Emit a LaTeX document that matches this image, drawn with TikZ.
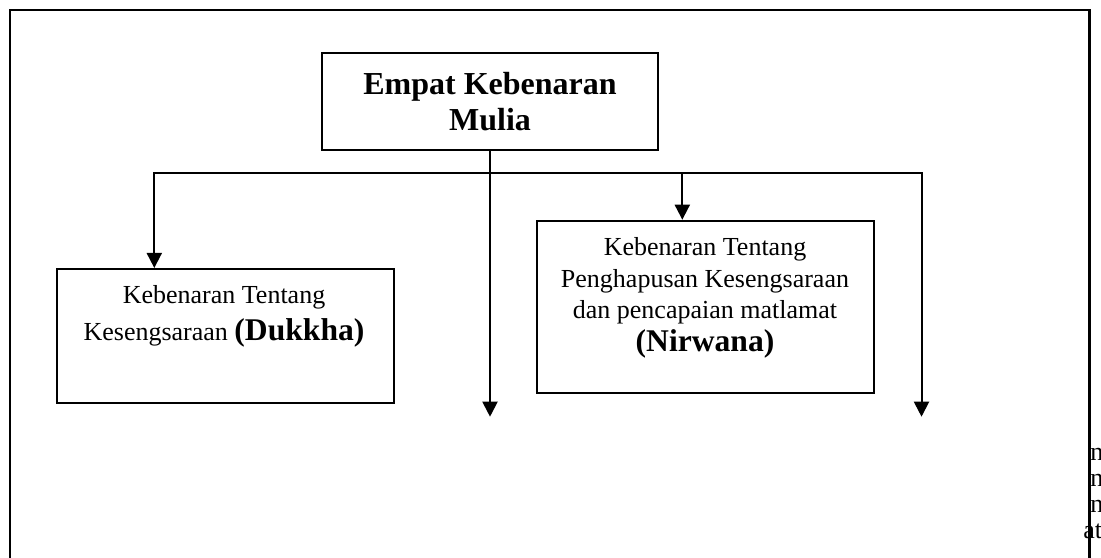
\documentclass[tikz,border=0pt]{standalone}
\usepackage{fontspec}
\setmainfont{Liberation Serif}
\usetikzlibrary{arrows.meta}
\begin{document}
\begin{tikzpicture}[x=0.5pt,y=-0.5pt,
  box/.style={draw, line width=1pt, inner sep=0pt, minimum width=168.35pt},
  txt/.style={inner sep=0pt, anchor=base, font=\fontsize{13}{15}\selectfont},
  ttl/.style={inner sep=0pt, anchor=base, font=\fontsize{16}{18}\selectfont\bfseries},
  conn/.style={line width=1pt},
  arr/.style={conn, -{Triangle[length=7.5pt,width=7.5pt]}},
  frame/.style={line width=1.1pt}]
\useasboundingbox (0,0) rectangle (1101,557);
\fill[white] (0,0) rectangle (1101,557);

% clipped text at the right edge
\node[txt, anchor=base west] (c1) at (1090,460) {n};
\node[txt, anchor=base west] (c2) at (1090,486) {n};
\node[txt, anchor=base west] (c3) at (1090,512) {n};
\node[txt, anchor=base west] (c4) at (1083,538) {at};

% outer frame (open at the bottom)
\draw[frame] (10,580) -- (10,10) -- (1089.5,10) -- (1089.5,580);

% boxes
\node[box, minimum width=168pt, minimum height=48.65pt] (title) at (490,101.4) {};
\node[box, minimum height=66.85pt] (left) at (225.7,335.8) {};
\node[box, minimum height=86pt] (right) at (705.7,306.7) {};

% title text
\node[ttl] (t1) at (490,94) {Empat Kebenaran};
\node[ttl] (t2) at (490,130.7) {Mulia};

% left box text
\node[txt] (l1) at (224,303.3) {Kebenaran Tentang};
\node[txt] (l2) at (224,340.5) {Kesengsaraan {\fontsize{15.8}{18}\selectfont\bfseries(Dukkha)}};

% right box text
\node[txt] (r1) at (705,255) {Kebenaran Tentang};
\node[txt] (r2) at (705,287.3) {Penghapusan Kesengsaraan};
\node[txt] (r3) at (705,318.3) {dan pencapaian matlamat};
\node[txt, font=\fontsize{15.8}{18}\selectfont\bfseries] (r4) at (705,351.7) {(Nirwana)};

% connectors
\coordinate (hl) at (154.3,172.7);
\coordinate (hm) at (682.3,172.7);
\coordinate (hr) at (921.5,172.7);
\coordinate (midend) at (490,416.7);
\coordinate (rend) at (921.5,416.7);
\draw[conn, line cap=rect] (hl) -- (hr);
\draw[arr] (title.south) -- (midend);
\draw[arr] (hl) -- (hl |- left.north);
\draw[arr] (hm) -- (hm |- right.north);
\draw[arr] (hr) -- (rend);
\end{tikzpicture}
\end{document}
